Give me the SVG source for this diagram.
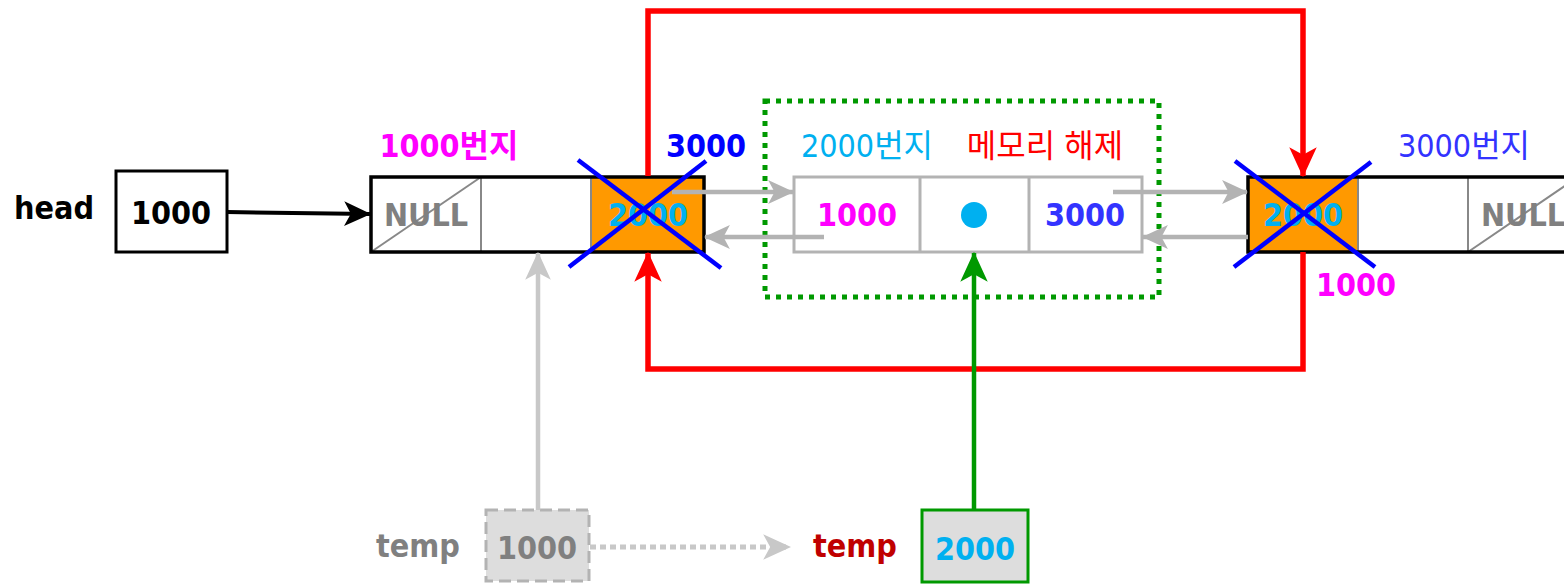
<svg xmlns="http://www.w3.org/2000/svg" width="1564" height="584" viewBox="0 0 1564 584">
<style>
.b{font-family:"DejaVu Sans Condensed","DejaVu Sans","Noto Sans CJK KR",sans-serif;font-stretch:condensed;font-weight:bold;font-size:32px}
.k{font-family:"DejaVu Sans Condensed","DejaVu Sans","Noto Sans CJK KR",sans-serif;font-stretch:condensed;font-size:32px}
.cell{fill:none;stroke:#888;stroke-width:2}
.gcell{fill:none;stroke:#b3b3b3;stroke-width:3}
.xline{stroke:#0000ff;stroke-width:4.5}
</style>
<defs>
<marker id="aK" viewBox="0 0 24 24" refX="23" refY="12" markerWidth="27" markerHeight="27" markerUnits="userSpaceOnUse" orient="auto"><path d="M0,1 L24,12 L0,23 L6,12 z" fill="#000"/></marker>
<marker id="aR" viewBox="0 0 24 24" refX="23" refY="12" markerWidth="30" markerHeight="30" markerUnits="userSpaceOnUse" orient="auto"><path d="M0,1 L24,12 L0,23 L6,12 z" fill="#ff0000"/></marker>
<marker id="aG" viewBox="0 0 24 24" refX="23" refY="12" markerWidth="30" markerHeight="30" markerUnits="userSpaceOnUse" orient="auto"><path d="M0,1 L24,12 L0,23 L6,12 z" fill="#009900"/></marker>
<marker id="aY" viewBox="0 0 24 24" refX="23" refY="12" markerWidth="26" markerHeight="26" markerUnits="userSpaceOnUse" orient="auto"><path d="M0,1 L24,12 L0,23 L6,12 z" fill="#b3b3b3"/></marker>
<marker id="aL" viewBox="0 0 24 24" refX="23" refY="12" markerWidth="28" markerHeight="28" markerUnits="userSpaceOnUse" orient="auto"><path d="M0,1 L24,12 L0,23 L6,12 z" fill="#c8c8c8"/></marker>
</defs>

<g id="head-label"><text class="b" x="14" y="219">head</text></g>
<g id="head"><rect x="116" y="171" width="111" height="81" fill="#fff" stroke="#000" stroke-width="3"/><text class="b" x="171" y="224" text-anchor="middle">1000</text></g>

<g id="node1000">
<rect x="371" y="177" width="110" height="75" fill="#fff"/>
<rect x="481" y="177" width="110" height="75" fill="#fff"/>
<rect x="591" y="177" width="113" height="75" fill="#ff9900"/>
<line class="cell" x1="371" y1="252" x2="481" y2="177"/>
<line class="cell" x1="481" y1="177" x2="481" y2="252"/>
<line class="cell" x1="591" y1="177" x2="591" y2="252"/>
<rect x="371" y="177" width="333" height="75" fill="none" stroke="#000" stroke-width="3.5"/>
<text class="b" x="426" y="226" text-anchor="middle" fill="#808080">NULL</text>
<text class="b" x="648" y="226" text-anchor="middle" fill="#00b0f0">2000</text>
<text class="b" x="449" y="157" text-anchor="middle" fill="#ff00ff" font-size="30">1000번지</text>
<text class="b" x="706" y="157" text-anchor="middle" fill="#0000ff">3000</text>
</g>

<g id="freed2000">
<rect x="765" y="101" width="394" height="196" fill="none" stroke="#009900" stroke-width="5" stroke-dasharray="5 6"/>
<rect x="794" y="177" width="348" height="75" fill="#fff" stroke="#b3b3b3" stroke-width="3"/>
<line class="gcell" x1="920" y1="177" x2="920" y2="252"/>
<line class="gcell" x1="1029" y1="177" x2="1029" y2="252"/>
<text class="b" x="857" y="226" text-anchor="middle" fill="#ff00ff">1000</text>
<circle cx="974" cy="215" r="13" fill="#00b0f0"/>
<text class="b" x="1085" y="226" text-anchor="middle" fill="#3333ff">3000</text>
<text class="k" x="867" y="157" text-anchor="middle" fill="#00b0f0">2000번지</text>
<text class="k" x="1045" y="157" text-anchor="middle" fill="#ff0000" font-family="'Noto Sans CJK KR',sans-serif" font-size="32">메모리 해제</text>
</g>

<g id="node3000">
<rect x="1248" y="177" width="110" height="75" fill="#ff9900"/>
<rect x="1358" y="177" width="220" height="75" fill="#fff"/>
<line class="cell" x1="1358" y1="177" x2="1358" y2="252"/>
<line class="cell" x1="1468" y1="177" x2="1468" y2="252"/>
<line class="cell" x1="1468" y1="252" x2="1578" y2="177"/>
<rect x="1248" y="177" width="330" height="75" fill="none" stroke="#000" stroke-width="3.5"/>
<text class="b" x="1303" y="226" text-anchor="middle" fill="#00b0f0">2000</text>
<text class="b" x="1523" y="226" text-anchor="middle" fill="#808080">NULL</text>
<text class="k" x="1464" y="157" text-anchor="middle" fill="#3333ff">3000번지</text>
<text class="b" x="1356" y="296" text-anchor="middle" fill="#ff00ff">1000</text>
</g>

<g id="temp-old">
<text class="b" x="418" y="557" text-anchor="middle" fill="#808080">temp</text>
<rect x="486" y="510" width="103" height="71" fill="#dddddd" stroke="#b3b3b3" stroke-width="3" stroke-dasharray="12 6"/>
<text class="b" x="537" y="559" text-anchor="middle" fill="#808080">1000</text>
</g>

<g id="temp-new">
<text class="b" x="855" y="557" text-anchor="middle" fill="#c00000">temp</text>
<rect x="922" y="510" width="106" height="72" fill="#dddddd" stroke="#009900" stroke-width="3"/>
<text class="b" x="975" y="560" text-anchor="middle" fill="#00b0f0">2000</text>
</g>

<g id="connectors" fill="none">
<line x1="227" y1="212" x2="370" y2="214" stroke="#000" stroke-width="4" marker-end="url(#aK)"/>
<path d="M648,176 V11 H1303 V176" stroke="#ff0000" stroke-width="5.5" marker-end="url(#aR)"/>
<path d="M1303,252 V369 H648 V253" stroke="#ff0000" stroke-width="5.5" marker-end="url(#aR)"/>
<line x1="672" y1="192" x2="793" y2="192" stroke="#b3b3b3" stroke-width="4.5" marker-end="url(#aY)"/>
<line x1="824" y1="237" x2="705" y2="237" stroke="#b3b3b3" stroke-width="4.5" marker-end="url(#aY)"/>
<line x1="1113" y1="192" x2="1247" y2="192" stroke="#b3b3b3" stroke-width="4.5" marker-end="url(#aY)"/>
<line x1="1248" y1="237" x2="1143" y2="237" stroke="#b3b3b3" stroke-width="4.5" marker-end="url(#aY)"/>
<line x1="538" y1="510" x2="538" y2="253" stroke="#c8c8c8" stroke-width="4.5" marker-end="url(#aL)"/>
<line x1="974" y1="510" x2="974" y2="253" stroke="#009900" stroke-width="4.5" marker-end="url(#aG)"/>
<line x1="590" y1="547" x2="790" y2="547" stroke="#c8c8c8" stroke-width="5" stroke-dasharray="6 4" marker-end="url(#aL)"/>
<line class="xline" x1="569" y1="267" x2="706" y2="161"/>
<line class="xline" x1="578" y1="160" x2="721" y2="268"/>
<line class="xline" x1="1234" y1="267" x2="1371" y2="162"/>
<line class="xline" x1="1235" y1="161" x2="1375" y2="267"/>
</g>
</svg>
